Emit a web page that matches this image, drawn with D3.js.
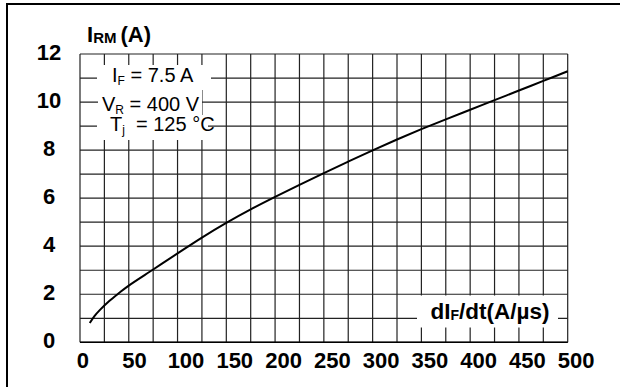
<!DOCTYPE html>
<html><head><meta charset="utf-8">
<script src="https://cdn.jsdelivr.net/npm/d3@7"></script>
<style>
html,body{margin:0;padding:0;background:#fff;}
svg{display:block;font-family:"Liberation Sans",Arial,Helvetica,sans-serif;}
</style></head>
<body>
<svg id="c" width="620" height="387"></svg>
<script>
// Data
const xTickValues = [0, 50, 100, 150, 200, 250, 300, 350, 400, 450, 500];
const yTickValues = [0, 2, 4, 6, 8, 10, 12];
const didt = [10, 15, 20, 30, 40, 50, 75, 100, 125, 150, 175, 200, 225, 250, 275, 300, 325, 350, 375, 400, 425, 450, 475, 500];
const irm  = [0.8, 1.1, 1.33, 1.72, 2.05, 2.36, 3.03, 3.7, 4.36, 4.97, 5.53, 6.05, 6.55, 7.04, 7.52, 7.99, 8.44, 8.87, 9.28, 9.68, 10.08, 10.48, 10.88, 11.28];
const conditions = [["I", "F", " = 7.5 A"], ["V", "R", " = 400 V"], ["T", "j", "  = 125 °C"]];

const svg = d3.select("#c");
const L = 80, R = 567.7, T = 54, B = 342.3;
const x = d3.scaleLinear().domain([0, 500]).range([L, R]);
const y = d3.scaleLinear().domain([0, 12]).range([B, T]);

// outer frame (left & top visible)
svg.append("line").attr("x1", 7).attr("x2", 7).attr("y1", 3).attr("y2", 387).attr("stroke", "#000").attr("stroke-width", 2);
svg.append("line").attr("x1", 6).attr("x2", 620).attr("y1", 4).attr("y2", 4).attr("stroke", "#000").attr("stroke-width", 2);

// grid
const g = svg.append("g");
g.append("g").selectAll("line").data(d3.range(0, 501, 25)).join("line")
  .attr("x1", d => x(d)).attr("x2", d => x(d)).attr("y1", T).attr("y2", B)
  .attr("stroke", "#222").attr("stroke-width", 1.2);
g.append("g").selectAll("line").data(d3.range(0, 13, 1)).join("line")
  .attr("x1", L).attr("x2", R).attr("y1", d => y(d)).attr("y2", d => y(d))
  .attr("stroke", "#222").attr("stroke-width", 1.2);
g.append("line").attr("x1", L).attr("x2", R).attr("y1", B).attr("y2", B).attr("stroke", "#000").attr("stroke-width", 1.6);

// white boxes behind annotation
const boxRows = [[97, 211, 65, 90], [98, 202, 90, 115], [97, 208, 115, 140]];
svg.append("g").selectAll("rect").data(boxRows).join("rect")
  .attr("x", d => d[0]).attr("width", d => d[1] - d[0])
  .attr("y", d => d[2]).attr("height", d => d[3] - d[2]).attr("fill", "#fff");
svg.append("rect").attr("x", 417).attr("width", 141).attr("y", 295.5).attr("height", 32).attr("fill", "#fff");

// annotation text
const startX = [112, 102, 110], baseY = [82, 111, 131];
conditions.forEach((c, i) => {
  const t = svg.append("text").attr("x", startX[i]).attr("y", baseY[i]).attr("font-size", 20).attr("fill", "#000");
  t.append("tspan").text(c[0]);
  t.append("tspan").attr("font-size", 12).attr("dy", 2.5).text(c[1]);
  t.append("tspan").attr("dy", -2.5).attr("xml:space", "preserve").style("white-space", "pre").text(c[2]);
});

// curve
const line = d3.line().x((d, i) => x(didt[i])).y(d => y(d)).curve(d3.curveCatmullRom);
svg.append("path").attr("d", line(irm)).attr("fill", "none").attr("stroke", "#000").attr("stroke-width", 2);

// y tick labels
svg.append("g").selectAll("text").data(yTickValues).join("text")
  .attr("x", 49).attr("y", d => y(d) + 5.5).attr("text-anchor", "middle")
  .attr("font-size", 22).attr("font-weight", "bold").text(d => d);

// x tick labels
svg.append("g").selectAll("text").data(xTickValues).join("text")
  .attr("y", 367.5).attr("font-size", 22).attr("font-weight", "bold").text(d => d)
  .each(function(d) {
    const w = this.getComputedTextLength();
    d3.select(this).attr("x", x(d) - 0.27 * w);
  });

// y title
const yt = svg.append("text").attr("x", 87).attr("y", 41.7).attr("font-weight", "bold").attr("font-size", 22);
yt.append("tspan").text("I");
yt.append("tspan").attr("font-size", 15).attr("dy", 1).text("RM");
yt.append("tspan").attr("dy", -1).attr("dx", 4).text("(A)");

// x title
const xt = svg.append("text").attr("x", 430.5).attr("y", 319.3).attr("font-weight", "bold").attr("font-size", 22.5);
xt.append("tspan").text("dI");
xt.append("tspan").attr("font-size", 14).attr("dy", 1).text("F");
xt.append("tspan").attr("dy", -1).text("/dt(A/µs)");
</script>
</body></html>
